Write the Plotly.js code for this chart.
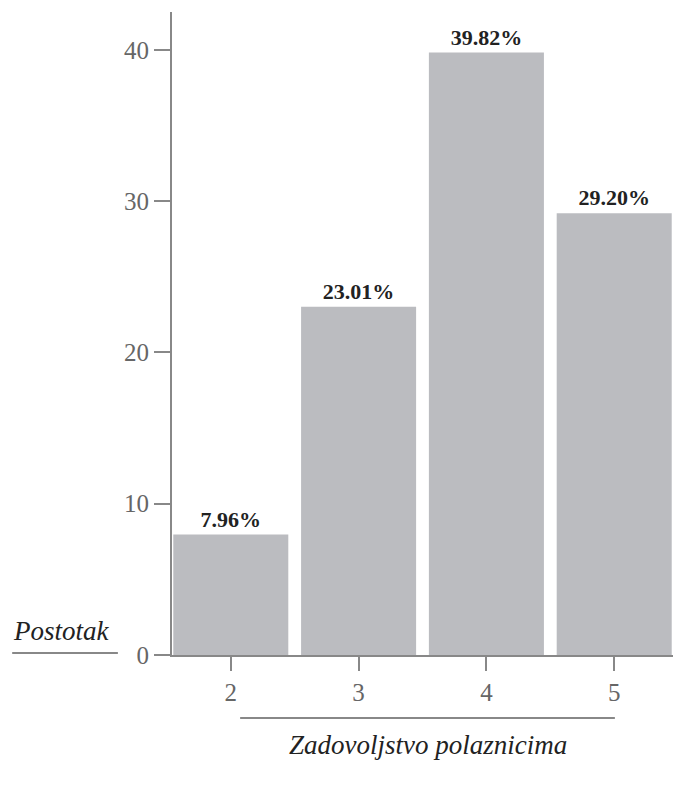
<!DOCTYPE html>
<html>
<head>
<meta charset="utf-8">
<script src="https://cdn.plot.ly/plotly-3.0.1.min.js"></script>
<style>html,body{margin:0;padding:0;background:#fff;}#chart{width:691px;height:787px;}</style>
</head>
<body>
<div id="chart"></div>
<script>
const categories = [2, 3, 4, 5];
const percentages = [7.96, 23.01, 39.82, 29.20];
const labels = percentages.map(v => v.toFixed(2) + '%');
const yTicks = [0, 10, 20, 30, 40];

const serif = 'Liberation Serif, DejaVu Serif, serif';
const trace = {
  type: 'bar',
  x: categories,
  y: percentages,
  width: 0.9,
  marker: {color: '#bbbcc0'},
  text: labels,
  textposition: 'outside',
  textfont: {family: serif, size: 22, color: '#222', weight: 'bold'},
  cliponaxis: false,
  hoverinfo: 'skip'
};
const layout = {
  width: 691, height: 787,
  margin: {l: 172, r: 18, t: 12, b: 132},
  paper_bgcolor: '#fff', plot_bgcolor: '#fff',
  showlegend: false,
  font: {family: serif, color: '#666'},
  xaxis: {
    range: [1.54, 5.46],
    tickvals: categories,
    ticktext: categories.map(String),
    showgrid: false, zeroline: false,
    showline: true, linecolor: '#888', linewidth: 2,
    ticks: 'outside', ticklen: 14, tickwidth: 2, tickcolor: '#888',
    tickfont: {family: serif, size: 25, color: '#666'}
  },
  yaxis: {
    range: [0, 42.5],
    tickvals: yTicks,
    showgrid: false, zeroline: false,
    showline: true, linecolor: '#888', linewidth: 2,
    ticks: 'outside', ticklen: 16, tickwidth: 2, tickcolor: '#888',
    tickfont: {family: serif, size: 25, color: '#666'}
  },
  annotations: [
    {text: '<i>Postotak</i>', xref: 'paper', yref: 'paper', x: -0.22, y: 0.038,
     xanchor: 'center', yanchor: 'middle', showarrow: false,
     font: {family: serif, size: 27, color: '#222'}},
    {text: '<i>Zadovoljstvo polaznicima</i>', xref: 'paper', yref: 'paper', x: 0.51, y: -0.14,
     xanchor: 'center', yanchor: 'middle', showarrow: false,
     font: {family: serif, size: 27, color: '#222'}}
  ],
  shapes: [
    {type: 'line', xref: 'paper', yref: 'paper', x0: -0.319, x1: -0.108, y0: 0.003, y1: 0.003,
     line: {color: '#888', width: 2}},
    {type: 'line', xref: 'paper', yref: 'paper', x0: 0.136, x1: 0.884, y0: -0.098, y1: -0.098,
     line: {color: '#888', width: 2}}
  ]
};
Plotly.newPlot('chart', [trace], layout, {displayModeBar: false, staticPlot: true});
</script>
</body>
</html>
